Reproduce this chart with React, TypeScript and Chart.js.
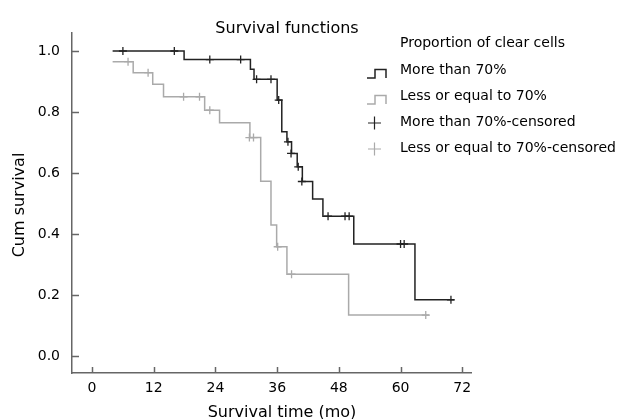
import React, { useEffect, useRef } from "react";
import { Chart, registerables } from "chart.js";
Chart.register(...registerables);

// Kaplan-Meier step curves (event times and survival after each event)
const moreTimes = [4, 17.9, 30.8, 31.5, 36.0, 36.9, 37.9, 38.8, 39.9, 40.9, 42.9, 44.9, 50.9, 62.8, 70.4];
const moreSurv = [1.0, 0.972, 0.94, 0.907, 0.839, 0.735, 0.702, 0.664, 0.62, 0.572, 0.515, 0.458, 0.367, 0.184, 0.184];
const moreCensTimes = [6, 16, 22.9, 28.9, 32, 34.8, 36.3, 38.1, 38.7, 40.1, 40.8, 45.9, 49.2, 50.0, 60.0, 60.7, 69.8];
const moreCensSurv = [1.0, 1.0, 0.972, 0.972, 0.907, 0.907, 0.839, 0.702, 0.664, 0.62, 0.572, 0.458, 0.458, 0.458, 0.367, 0.367, 0.184];

const lessTimes = [4, 8.0, 11.8, 13.9, 21.9, 24.8, 30.7, 32.8, 34.8, 35.9, 37.9, 49.9, 65.6];
const lessSurv = [0.965, 0.929, 0.891, 0.85, 0.806, 0.765, 0.716, 0.573, 0.429, 0.358, 0.268, 0.134, 0.134];
const lessCensTimes = [7, 10.9, 17.8, 20.9, 22.9, 30.6, 31.4, 36.1, 38.8, 64.9];
const lessCensSurv = [0.965, 0.929, 0.85, 0.85, 0.806, 0.716, 0.716, 0.358, 0.268, 0.134];

const xTicks = [0, 12, 24, 36, 48, 60, 72];
const yTicks = [0, 0.2, 0.4, 0.6, 0.8, 1.0];

const legendTitle = "Proportion of clear cells";
const legendLabels = ["More than 70%", "Less or equal to 70%", "More than 70%-censored", "Less or equal to 70%-censored"];
const chartTitle = "Survival functions";
const xTitle = "Survival time (mo)";
const yTitle = "Cum survival";

const BLACK = "#222222";
const GRAY = "#aaaaaa";
const AXIS = "#666666";
const FONT = "'DejaVu Sans', sans-serif";

const toXY = (xs: number[], ys: number[]) => xs.map((x, i) => ({ x, y: ys[i] }));

const decorPlugin = {
  id: "decor",
  afterDraw(chart: any) {
    const ctx = chart.ctx;
    const xs = chart.scales.x;
    const ys = chart.scales.y;
    const area = chart.chartArea;
    ctx.save();
    // inward tick marks
    ctx.strokeStyle = AXIS;
    ctx.lineWidth = 1.5;
    xTicks.forEach((t) => {
      const px = Math.round(xs.getPixelForValue(t)) + 0.5;
      ctx.beginPath();
      ctx.moveTo(px, area.bottom);
      ctx.lineTo(px, area.bottom - 6);
      ctx.stroke();
    });
    yTicks.forEach((t) => {
      const py = Math.round(ys.getPixelForValue(t)) + 0.5;
      ctx.beginPath();
      ctx.moveTo(area.left, py);
      ctx.lineTo(area.left + 7, py);
      ctx.stroke();
    });
    // titles
    ctx.fillStyle = "#000";
    ctx.font = `16px ${FONT}`;
    ctx.textAlign = "center";
    ctx.textBaseline = "alphabetic";
    ctx.fillText(chartTitle, 287, 33);
    ctx.fillText(xTitle, 282, 417);
    ctx.save();
    ctx.translate(24, 205);
    ctx.rotate(-Math.PI / 2);
    ctx.fillText(yTitle, 0, 0);
    ctx.restore();
    // legend
    ctx.font = `14px ${FONT}`;
    ctx.textBaseline = "middle";
    ctx.textAlign = "left";
    ctx.fillText(legendTitle, 400, 43);
    const rows = [70, 96, 122, 148];
    legendLabels.forEach((lab, i) => {
      const y = rows[i];
      ctx.fillStyle = "#000";
      ctx.fillText(lab, 400, y);
      const col = i % 2 === 0 ? BLACK : GRAY;
      ctx.strokeStyle = col;
      ctx.lineWidth = 1.5;
      ctx.beginPath();
      if (i < 2) {
        ctx.moveTo(367, y + 8);
        ctx.lineTo(375, y + 8);
        ctx.lineTo(375, y - 0.5);
        ctx.lineTo(386, y - 0.5);
        ctx.lineTo(386, y + 8);
      } else {
        ctx.lineWidth = 1.2;
        ctx.moveTo(368, y + 1);
        ctx.lineTo(381, y + 1);
        ctx.moveTo(374.5, y - 5.5);
        ctx.lineTo(374.5, y + 7.5);
      }
      ctx.stroke();
    });
    ctx.restore();
  },
};

export default function App() {
  const ref = useRef<HTMLCanvasElement | null>(null);
  useEffect(() => {
    if (!ref.current) return;
    const chart = new Chart(ref.current, {
      type: "line",
      data: {
        datasets: [
          {
            data: toXY(moreTimes, moreSurv),
            borderColor: BLACK,
            borderWidth: 1.5,
            stepped: "before",
            pointRadius: 0,
            fill: false,
          },
          {
            data: toXY(lessTimes, lessSurv),
            borderColor: GRAY,
            borderWidth: 1.5,
            stepped: "before",
            pointRadius: 0,
            fill: false,
          },
          {
            data: toXY(moreCensTimes, moreCensSurv),
            showLine: false,
            pointStyle: "cross",
            pointRadius: 4,
            pointBorderWidth: 1.3,
            pointBorderColor: BLACK,
            borderColor: BLACK,
          },
          {
            data: toXY(lessCensTimes, lessCensSurv),
            showLine: false,
            pointStyle: "cross",
            pointRadius: 4,
            pointBorderWidth: 1.3,
            pointBorderColor: GRAY,
            borderColor: GRAY,
          },
        ],
      } as any,
      options: {
        animation: false,
        responsive: false,
        layout: { padding: { left: 0, right: 151, top: 33, bottom: 0 } },
        plugins: { legend: { display: false }, title: { display: false }, tooltip: { enabled: false } },
        scales: {
          x: {
            type: "linear",
            min: -3.9,
            max: 73.7,
            grid: { display: false, drawTicks: false },
            border: { display: true, color: AXIS, width: 1.5 },
            afterBuildTicks: (s: any) => {
              s.ticks = xTicks.map((v) => ({ value: v }));
            },
            afterFit: (s: any) => {
              s.height = 46;
            },
            ticks: { color: "#000", font: { size: 14, family: FONT }, padding: 7, maxRotation: 0 },
          },
          y: {
            type: "linear",
            min: -0.056,
            max: 1.059,
            grid: { display: false, drawTicks: false },
            border: { display: true, color: AXIS, width: 1.5 },
            afterBuildTicks: (s: any) => {
              s.ticks = yTicks.map((v) => ({ value: v }));
            },
            afterFit: (s: any) => {
              s.width = 72;
            },
            ticks: {
              color: "#000",
              font: { size: 14, family: FONT },
              padding: 12,
              callback: (v: any) => Number(v).toFixed(1),
            },
          },
        },
      },
      plugins: [decorPlugin],
    } as any);
    return () => chart.destroy();
  }, []);
  return (
    <div style={{ position: "fixed", left: 0, top: 0, width: 622, height: 419, background: "#fff" }}>
      <canvas ref={ref} width={622} height={419} />
    </div>
  );
}
